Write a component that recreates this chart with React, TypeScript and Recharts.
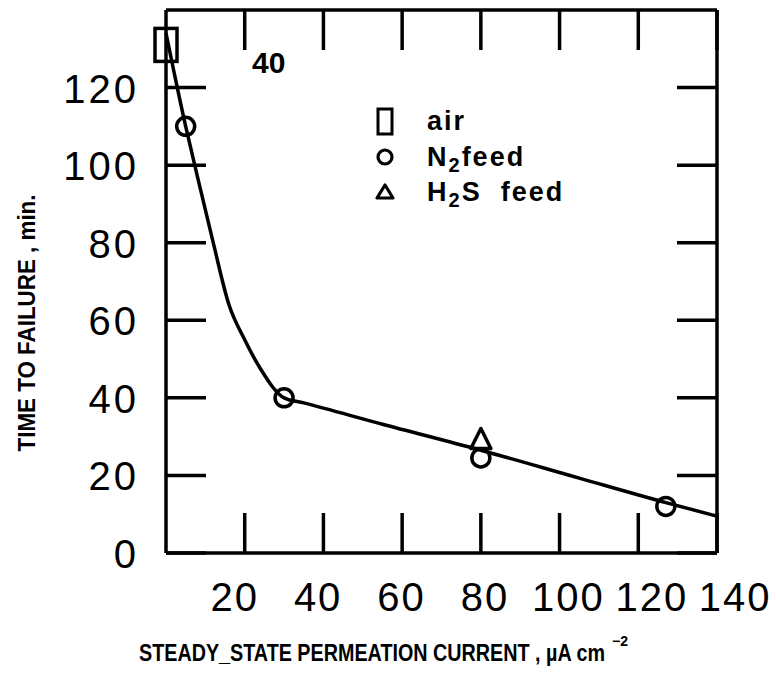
import React from 'react';
import { ComposedChart, Line, Scatter, XAxis, YAxis, ReferenceLine, Legend } from 'recharts';

// measured points
const airX = [0];
const airY = [131];
const n2X = [5, 30, 80, 127];
const n2Y = [110, 40, 24.5, 12];
const h2sX = [80];
const h2sY = [29.5];

// hand-drawn fit curve through the points
const fitX = [0, 5, 8, 12, 16, 20, 24, 30, 35, 55, 80, 105, 127, 140];
const fitY = [134, 110, 97, 80, 64, 55, 47.5, 40, 38.7, 33.2, 26.5, 19.3, 13, 9.5];

const xTicks = [20, 40, 60, 80, 100, 120, 140];
const yTicks = [0, 20, 40, 60, 80, 100, 120];

const toPoints = (xs: number[], ys: number[]) => xs.map((x, i) => ({ x, y: ys[i] }));

const W = 776;
const H = 679;
const PLOT_TOP = 10;
const PLOT_RIGHT = 717;
const TICK = 40;
const SW = 3.5;
const FONT = '"Liberation Sans", Arial, sans-serif';

const XTick = (props: any) => {
  const { x, y, payload, index } = props;
  const shift = -10 + index * 4.7;
  return (
    <g>
      <line x1={x} x2={x} y1={y} y2={y - TICK} stroke="#000" strokeWidth={SW} />
      <line x1={x} x2={x} y1={PLOT_TOP} y2={PLOT_TOP + TICK} stroke="#000" strokeWidth={SW} />
      <text x={x + shift} y={y + 58} textAnchor="middle" fontSize={40} letterSpacing={2} fontFamily={FONT} fill="#000">
        {payload.value}
      </text>
    </g>
  );
};

const YTick = (props: any) => {
  const { x, y, payload } = props;
  return (
    <g>
      <line x1={x} x2={x + TICK} y1={y} y2={y} stroke="#000" strokeWidth={SW} />
      <line x1={PLOT_RIGHT - TICK} x2={PLOT_RIGHT} y1={y} y2={y} stroke="#000" strokeWidth={SW} />
      <text x={x - 27} y={y + 15} textAnchor="end" fontSize={40} letterSpacing={3} fontFamily={FONT} fill="#000">
        {payload.value}
      </text>
    </g>
  );
};

const SquareShape = (props: any) => {
  const { cx, cy } = props;
  return <rect x={cx - 11} y={cy - 16.5} width={22} height={33} fill="none" stroke="#000" strokeWidth={SW} />;
};

const CircleShape = (props: any) => {
  const { cx, cy } = props;
  return <circle cx={cx} cy={cy} r={9} fill="none" stroke="#000" strokeWidth={SW} />;
};

const TriangleShape = (props: any) => {
  const { cx, cy } = props;
  return (
    <polygon
      points={`${cx},${cy - 10} ${cx + 10},${cy + 10} ${cx - 10},${cy + 10}`}
      fill="none"
      stroke="#000"
      strokeWidth={SW}
      strokeLinejoin="round"
    />
  );
};

const sub = { fontSize: 20, position: 'relative' as const, top: 6 };

const legendRows = [
  { key: 'air', icon: <rect x={4} y={2} width={14} height={25} fill="none" stroke="#000" strokeWidth={3} />, label: <span>air</span> },
  { key: 'n2', icon: <circle cx={11} cy={15} r={7} fill="none" stroke="#000" strokeWidth={3.2} />, label: <span>N<span style={sub}>2</span>feed</span> },
  { key: 'h2s', icon: <polygon points="11,7 19,20 3,20" fill="none" stroke="#000" strokeWidth={3.2} strokeLinejoin="round" />, label: <span>H<span style={sub}>2</span>S&nbsp; feed</span> },
];

const LegendBox = () => (
  <div style={{ fontFamily: FONT, fontWeight: 'bold', fontSize: 27, letterSpacing: 2, color: '#000' }}>
    {legendRows.map((r) => (
      <div key={r.key} style={{ display: 'flex', alignItems: 'center', height: 35.5 }}>
        <svg width={22} height={30} style={{ marginRight: 31 }}>{r.icon}</svg>
        {r.label}
      </div>
    ))}
  </div>
);

const XTitle = () => (
  <g>
    <text
      x={0}
      y={0}
      transform="translate(372 661) scale(1 1.25)"
      textAnchor="middle"
      fontSize={19}
      fontWeight="bold"
      fontFamily={FONT}
      textLength={466}
      lengthAdjust="spacingAndGlyphs"
      fill="#000"
    >
      STEADY_STATE PERMEATION CURRENT , µA cm
    </text>
    <text x={612} y={646} fontSize={14} fontWeight="bold" fontFamily={FONT} fill="#000">
      −2
    </text>
  </g>
);

const YTitle = () => (
  <text x={0} y={0} transform="translate(35 323) rotate(-90)" textAnchor="middle" fontSize={23} fontWeight="bold" fontFamily={FONT} textLength={257} lengthAdjust="spacingAndGlyphs" fill="#000">
    TIME TO FAILURE , min.
  </text>
);

export default function App() {
  return (
    <div style={{ position: 'relative', width: W, height: H, background: '#fff' }}>
      <style>{'body{margin:0;background:#fff}'}</style>
      <ComposedChart width={W} height={H} margin={{ top: PLOT_TOP, right: W - PLOT_RIGHT, bottom: 0, left: 0 }}>
        <XAxis
          dataKey="x"
          type="number"
          domain={[0, 140]}
          ticks={xTicks}
          height={126}
          tickSize={0}
          tickMargin={0}
          tickLine={false}
          interval={0}
          axisLine={{ stroke: '#000', strokeWidth: SW }}
          tick={<XTick />}
          label={{ content: () => <XTitle /> }}
        />
        <YAxis
          dataKey="y"
          type="number"
          domain={[0, 140]}
          ticks={yTicks}
          width={166}
          tickSize={0}
          tickMargin={0}
          tickLine={false}
          interval={0}
          axisLine={{ stroke: '#000', strokeWidth: SW }}
          tick={<YTick />}
          label={{ content: () => <YTitle /> }}
        />
        <ReferenceLine y={140} stroke="#000" strokeWidth={SW} />
        <ReferenceLine x={140} stroke="#000" strokeWidth={SW} />
        <Line
          data={toPoints(fitX, fitY)}
          dataKey="y"
          type="monotone"
          stroke="#000"
          strokeWidth={SW}
          dot={false}
          activeDot={false}
          legendType="none"
          isAnimationActive={false}
        />
        <Scatter name="air" data={toPoints(airX, airY)} dataKey="y" shape={<SquareShape />} isAnimationActive={false} />
        <Scatter name="N2 feed" data={toPoints(n2X, n2Y)} dataKey="y" shape={<CircleShape />} isAnimationActive={false} />
        <Scatter name="H2S feed" data={toPoints(h2sX, h2sY)} dataKey="y" shape={<TriangleShape />} isAnimationActive={false} />
        <Legend
          layout="vertical"
          align="center"
          verticalAlign="middle"
          content={() => <LegendBox />}
          wrapperStyle={{ left: 374, top: 104, width: 260, height: 110 }}
        />
      </ComposedChart>
      <div
        style={{
          position: 'absolute',
          left: 252,
          top: 48,
          fontFamily: FONT,
          fontWeight: 'bold',
          fontSize: 30,
          lineHeight: '30px',
          color: '#000',
        }}
      >
        40
      </div>
    </div>
  );
}
